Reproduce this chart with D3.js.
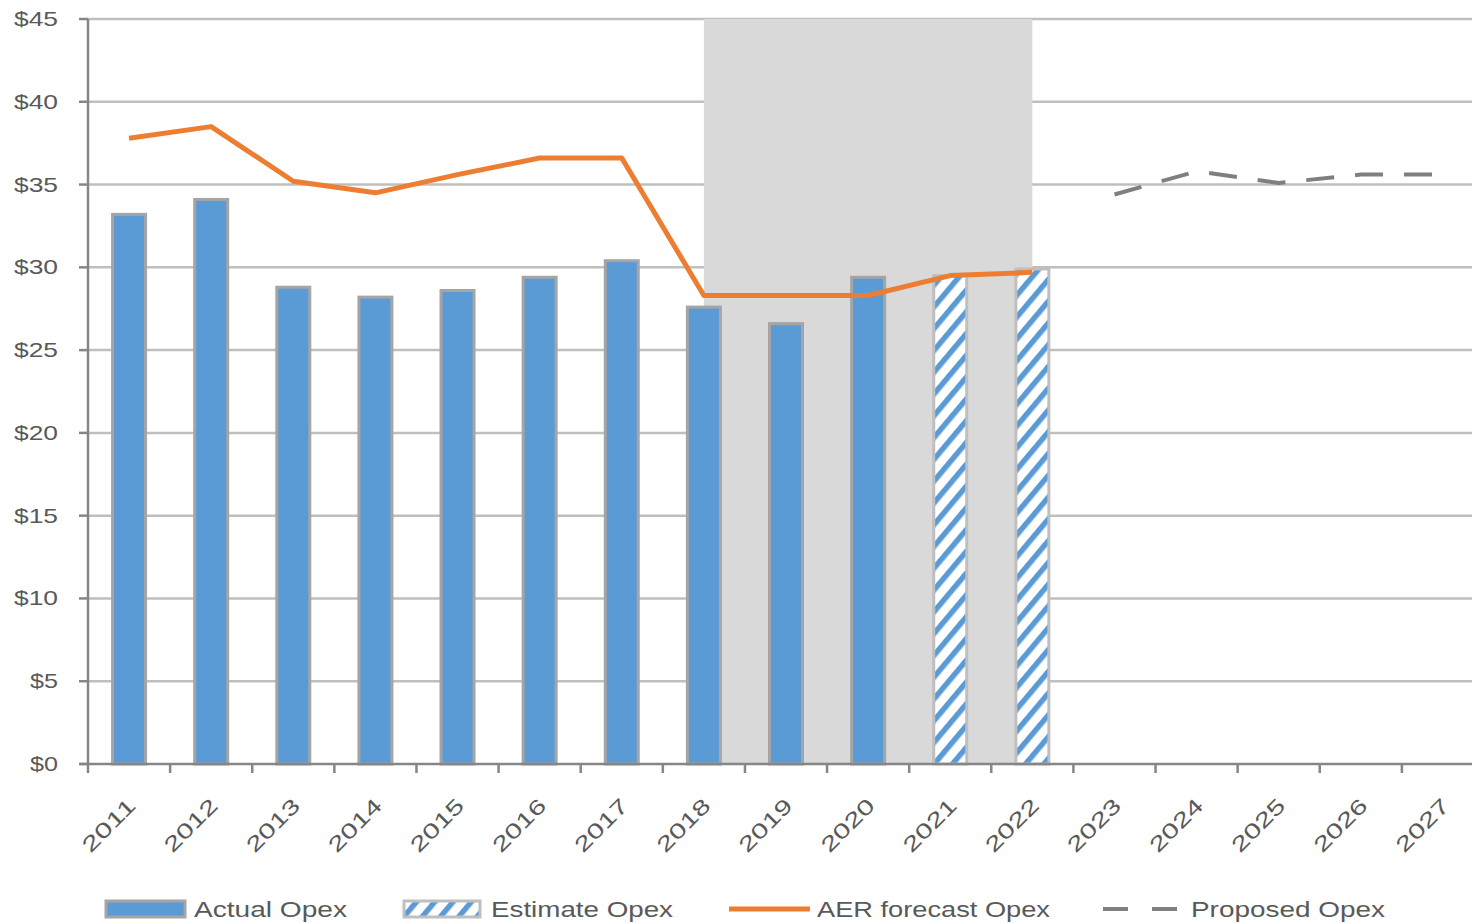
<!DOCTYPE html>
<html><head><meta charset="utf-8">
<script src="https://cdn.jsdelivr.net/npm/d3@7"></script>
<style>html,body{margin:0;padding:0;background:#fff;overflow:hidden}</style>
</head><body>
<svg id="c" width="1472" height="923"></svg>
<script>
const years = ["2011","2012","2013","2014","2015","2016","2017","2018","2019","2020","2021","2022","2023","2024","2025","2026","2027"];
const actualOpex   = [33.2,34.1,28.8,28.2,28.6,29.4,30.4,27.6,26.6,29.4,null,null,null,null,null,null,null];
const estimateOpex = [null,null,null,null,null,null,null,null,null,null,29.5,29.9,null,null,null,null,null];
const aerForecast  = [37.8,38.5,35.2,34.5,35.6,36.6,36.6,28.3,28.3,28.3,29.5,29.7,null,null,null,null,null];
const proposedOpex = [null,null,null,null,null,null,null,null,null,null,null,null,34.4,35.8,35.1,35.6,35.6];
const shadedPeriod = [null,null,null,null,null,null,null,45,45,45,45,45,null,null,null,null,null];
const yTicks = [0,5,10,15,20,25,30,35,40,45];
const yTickLabels = ["$0","$5","$10","$15","$20","$25","$30","$35","$40","$45"];
const legendLabels = ["Actual Opex","Estimate Opex","AER forecast Opex","Proposed Opex"];

const svg = d3.select("#c");
const font = "'Liberation Sans', Arial, sans-serif";
const x = d3.scaleBand().domain(years).range([88, 1484]).padding(0);
const y = d3.scaleLinear().domain([0,45]).range([764, 19]);
const cx = d => x(d) + x.bandwidth()/2;
const barW = 33;

const defs = svg.append("defs");
const pat = defs.append("pattern").attr("id","hatch").attr("patternUnits","userSpaceOnUse")
  .attr("width",14).attr("height",14).attr("patternTransform","rotate(40)");
pat.append("rect").attr("width",14).attr("height",14).attr("fill","#fff");
pat.append("rect").attr("x",0).attr("width",5.5).attr("height",14).attr("fill","#5b9bd5");

// gridlines
svg.append("g").selectAll("line").data(yTicks.filter(t=>t>0)).join("line")
  .attr("x1",88).attr("x2",1484).attr("y1",d=>y(d)).attr("y2",d=>y(d))
  .attr("stroke","#bfbfbf").attr("stroke-width",2.5);

// shaded area
const area = d3.area().defined(d=>d.v!=null).x(d=>cx(d.k)).y0(y(0)).y1(d=>y(d.v));
svg.append("path").datum(years.map((k,i)=>({k,v:shadedPeriod[i]})))
  .attr("d",area).attr("fill","#d9d9d9");

// actual bars
svg.append("g").selectAll("rect").data(years.map((k,i)=>({k,v:actualOpex[i]})).filter(d=>d.v!=null)).join("rect")
  .attr("x",d=>cx(d.k)-barW/2).attr("width",barW).attr("y",d=>y(d.v)).attr("height",d=>y(0)-y(d.v))
  .attr("fill","#5b9bd5").attr("stroke","#a5a5a5").attr("stroke-width",3);
// estimate bars
svg.append("g").selectAll("rect").data(years.map((k,i)=>({k,v:estimateOpex[i]})).filter(d=>d.v!=null)).join("rect")
  .attr("x",d=>cx(d.k)-barW/2).attr("width",barW).attr("y",d=>y(d.v)).attr("height",d=>y(0)-y(d.v))
  .attr("fill","url(#hatch)").attr("stroke","#bfbfbf").attr("stroke-width",3);

// lines
const line = d3.line().defined(d=>d.v!=null).x(d=>cx(d.k)).y(d=>y(d.v));
svg.append("path").datum(years.map((k,i)=>({k,v:aerForecast[i]})))
  .attr("d",line).attr("fill","none").attr("stroke","#ed7d31").attr("stroke-width",5).attr("stroke-linejoin","round");
svg.append("path").datum(years.map((k,i)=>({k,v:proposedOpex[i]})))
  .attr("d",line).attr("fill","none").attr("stroke","#7f7f7f").attr("stroke-width",4).attr("stroke-dasharray","28,21");

// axes
const axisColor = "#868686";
svg.append("line").attr("x1",88).attr("x2",88).attr("y1",19).attr("y2",765).attr("stroke",axisColor).attr("stroke-width",2.5);
svg.append("line").attr("x1",79).attr("x2",1484).attr("y1",764).attr("y2",764).attr("stroke",axisColor).attr("stroke-width",2.5);
svg.append("g").selectAll("line").data(yTicks).join("line")
  .attr("x1",79).attr("x2",88).attr("y1",d=>y(d)).attr("y2",d=>y(d)).attr("stroke",axisColor).attr("stroke-width",2.5);
const xTickPos = years.map(k=>x(k));
svg.append("g").selectAll("line").data(xTickPos).join("line")
  .attr("x1",d=>d).attr("x2",d=>d).attr("y1",764).attr("y2",773).attr("stroke",axisColor).attr("stroke-width",2.5);

// y labels
svg.append("g").selectAll("text").data(yTicks).join("text")
  .attr("x",58).attr("y",d=>y(d)+7).attr("text-anchor","end")
  .attr("font-family",font).attr("font-size",21).attr("fill","#595959")
  .attr("textLength",(d,i)=>yTickLabels[i].length===3?44:28).attr("lengthAdjust","spacingAndGlyphs")
  .text((d,i)=>yTickLabels[i]);

// x labels
svg.append("g").selectAll("text").data(years).join("text")
  .attr("text-anchor","end").attr("font-family",font).attr("font-size",21).attr("fill","#595959")
  .attr("transform",d=>`translate(${cx(d)+8},${807}) rotate(-45)`)
  .attr("textLength",66).attr("lengthAdjust","spacingAndGlyphs")
  .text(d=>d);

// legend
const ly = 909;
const lg = svg.append("g");
lg.append("rect").attr("x",106).attr("y",901).attr("width",79).attr("height",16).attr("fill","#5b9bd5").attr("stroke","#a5a5a5").attr("stroke-width",3);
lg.append("rect").attr("x",404).attr("y",901).attr("width",76).attr("height",16).attr("fill","url(#hatch)").attr("stroke","#bfbfbf").attr("stroke-width",3);
lg.append("line").attr("x1",729).attr("x2",810).attr("y1",ly).attr("y2",ly).attr("stroke","#ed7d31").attr("stroke-width",5);
lg.append("line").attr("x1",1103).attr("x2",1178).attr("y1",ly).attr("y2",ly).attr("stroke","#7f7f7f").attr("stroke-width",4).attr("stroke-dasharray","25,24");
const legPos = [[194,153],[491,182],[817,233],[1191,194]];
lg.selectAll("text").data(legendLabels).join("text")
  .attr("x",(d,i)=>legPos[i][0]).attr("y",917).attr("font-family",font).attr("font-size",22).attr("fill","#595959")
  .attr("textLength",(d,i)=>legPos[i][1]).attr("lengthAdjust","spacingAndGlyphs")
  .text(d=>d);
</script>
</body></html>
